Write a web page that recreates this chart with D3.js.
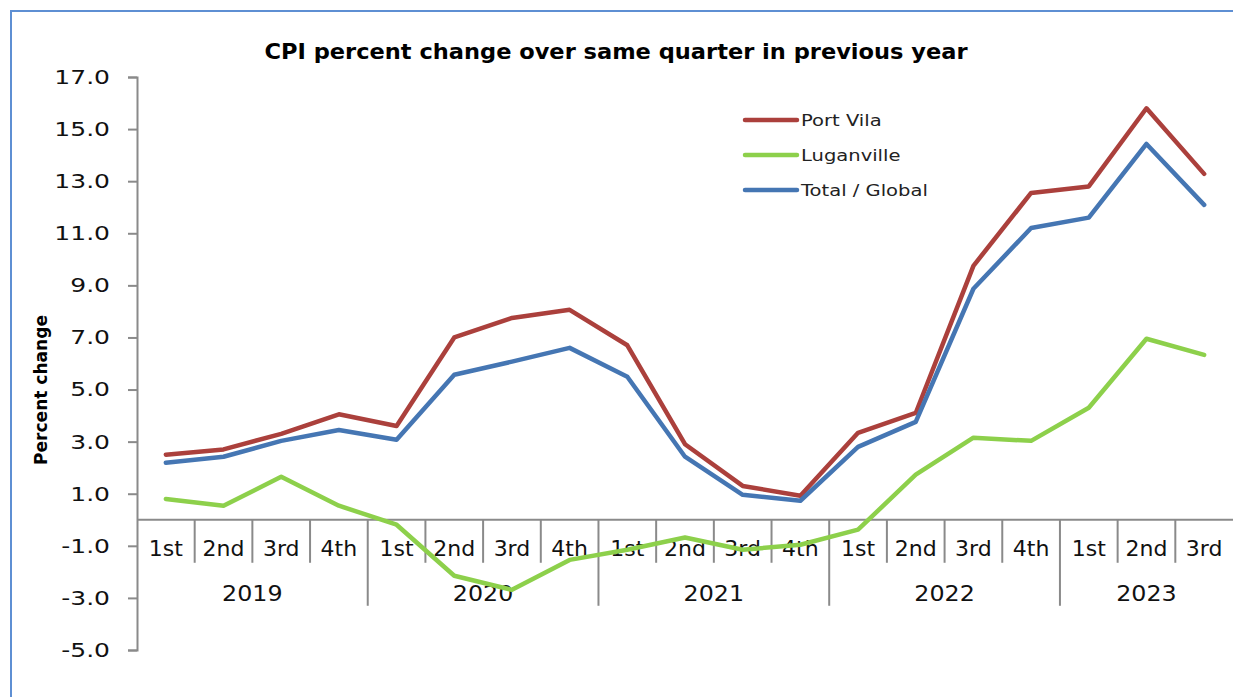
<!DOCTYPE html>
<html>
<head>
<meta charset="utf-8">
<script src="https://cdn.jsdelivr.net/npm/d3@7"></script>
<style>
	body { margin: 0; background: #fff; }
	svg { display: block; font-family: "DejaVu Sans", Verdana, sans-serif; }
</style>
</head>
<body>
<svg id="chart" width="1233" height="697"></svg>
<script>
(function (){
	"use strict";

var quarters = ["1st","2nd","3rd","4th","1st","2nd","3rd","4th","1st","2nd","3rd","4th","1st","2nd","3rd","4th","1st","2nd","3rd"];
var years = ["2019","2020","2021","2022","2023"];
var yearOf = [0,0,0,0,1,1,1,1,2,2,2,2,3,3,3,3,4,4,4];
var portVila = [2.5, 2.7, 3.3, 4.05, 3.6, 7.0, 7.75, 8.06, 6.7, 2.9, 1.3, 0.92, 3.34, 4.1, 9.75, 12.55, 12.8, 15.8, 13.28];
var luganville = [0.8, 0.54, 1.65, 0.54, -0.19, -2.15, -2.69, -1.54, -1.15, -0.68, -1.15, -0.96, -0.38, 1.73, 3.15, 3.03, 4.3, 6.95, 6.33];
var total = [2.19, 2.42, 3.03, 3.45, 3.07, 5.57, 6.07, 6.6, 5.49, 2.42, 0.96, 0.73, 2.8, 3.76, 8.87, 11.2, 11.6, 14.43, 12.09];
var yTicks = [-5, -3, -1, 1, 3, 5, 7, 9, 11, 13, 15, 17];

var series = [
	{name: "Port Vila", values: portVila, colour: "#AB403C"},
	{name: "Luganville", values: luganville, colour: "#8DD04B"},
	{name: "Total / Global", values: total, colour: "#4576B3"}
];

var axisGrey = "#8a8a8a";
var svg = d3.select("#chart");

// outer frame (only top + left visible in the crop)
svg.append("rect")
	.attr("x", 11).attr("y", 11)
	.attr("width", 1260).attr("height", 760)
	.attr("fill", "none")
	.attr("stroke", "#5E8FD3")
	.attr("stroke-width", 2);

var x = d3.scaleBand()
	.domain(d3.range(quarters.length))
	.range([137, 1233]);

var y = d3.scaleLinear()
	.domain([-5, 17])
	.range([650, 77]);

// stretch helper, the original text is a bit wider than DejaVu
function stretch(sel, k){
	sel.each(function(){
		var w = this.getComputedTextLength();
		d3.select(this).attr("textLength", w * k).attr("lengthAdjust", "spacingAndGlyphs");
	});
}

// title
svg.append("text")
	.attr("x", 616).attr("y", 59)
	.attr("text-anchor", "middle")
	.style("font-size", "22px")
	.style("font-weight", "bold")
	.text("CPI percent change over same quarter in previous year")
	.attr("textLength", 703)
	.attr("lengthAdjust", "spacingAndGlyphs");

// y axis
var yAxis = svg.append("g")
	.attr("transform", "translate(137,0)")
	.call(d3.axisLeft(y).tickValues(yTicks).tickSize(9).tickPadding(18)
		.tickFormat(function(d){ return d.toFixed(1); }));
yAxis.select(".domain").attr("stroke", axisGrey).attr("stroke-width", 2);
yAxis.selectAll(".tick line").attr("stroke", axisGrey).attr("stroke-width", 2);
yAxis.selectAll(".tick text")
	.attr("fill", "#111")
	.style("font-size", "20px")
	.style("font-family", "DejaVu Sans, sans-serif")
	.call(stretch, 1.25);

svg.append("text")
	.attr("transform", "translate(47,390) rotate(-90)")
	.attr("text-anchor", "middle")
	.style("font-size", "17px")
	.style("font-weight", "bold")
	.text("Percent change")
	.attr("textLength", 150)
	.attr("lengthAdjust", "spacingAndGlyphs");

// x axis along zero
var x0 = y(0);
svg.append("line")
	.attr("x1", 137).attr("x2", 1233)
	.attr("y1", x0).attr("y2", x0)
	.attr("stroke", axisGrey).attr("stroke-width", 2);

var seps = d3.range(1, quarters.length);
svg.selectAll(".sep").data(seps)
	.enter().append("line")
		.attr("class", "sep")
		.attr("x1", function(i){ return x(i); })
		.attr("x2", function(i){ return x(i); })
		.attr("y1", x0)
		.attr("y2", function(i){ return yearOf[i] !== yearOf[i-1] ? x0 + 86 : x0 + 43; })
		.attr("stroke", axisGrey).attr("stroke-width", 2);

svg.selectAll(".qLabel").data(quarters)
	.enter().append("text")
		.attr("class", "qLabel")
		.attr("x", function(d, i){ return x(i) + x.bandwidth() / 2; })
		.attr("y", x0 + 36)
		.attr("text-anchor", "middle")
		.attr("fill", "#111")
		.style("font-size", "22px")
		.text(function(d){ return d; });

svg.selectAll(".yLabel").data(years)
	.enter().append("text")
		.attr("class", "yLabel")
		.attr("x", function(d, k){
			var idx = d3.range(quarters.length).filter(function(i){ return yearOf[i] === k; });
			return (x(idx[0]) + x(idx[idx.length-1]) + x.bandwidth()) / 2;
		})
		.attr("y", x0 + 81)
		.attr("text-anchor", "middle")
		.attr("fill", "#111")
		.style("font-size", "22px")
		.text(function(d){ return d; })
		.call(stretch, 1.08);

// lines
var line = d3.line()
	.x(function(d, i){ return x(i) + x.bandwidth() / 2; })
	.y(function(d){ return y(d); });

svg.selectAll(".series").data(series)
	.enter().append("path")
		.attr("class", "series")
		.attr("d", function(s){ return line(s.values); })
		.attr("fill", "none")
		.attr("stroke", function(s){ return s.colour; })
		.attr("stroke-width", 4.5)
		.attr("stroke-linejoin", "round")
		.attr("stroke-linecap", "round");

// legend
var legend = svg.selectAll(".legend").data(series)
	.enter().append("g")
		.attr("class", "legend")
		.attr("transform", function(d, i){ return "translate(745," + (120 + i * 35) + ")"; });
legend.append("line")
	.attr("x1", 0).attr("x2", 52)
	.attr("stroke", function(d){ return d.colour; })
	.attr("stroke-width", 4.5)
	.attr("stroke-linecap", "round");
legend.append("text")
	.attr("x", 56).attr("y", 6)
	.attr("fill", "#222")
	.style("font-size", "16px")
	.text(function(d){ return d.name; })
	.call(stretch, 1.22);

})();
</script>
</body>
</html>
